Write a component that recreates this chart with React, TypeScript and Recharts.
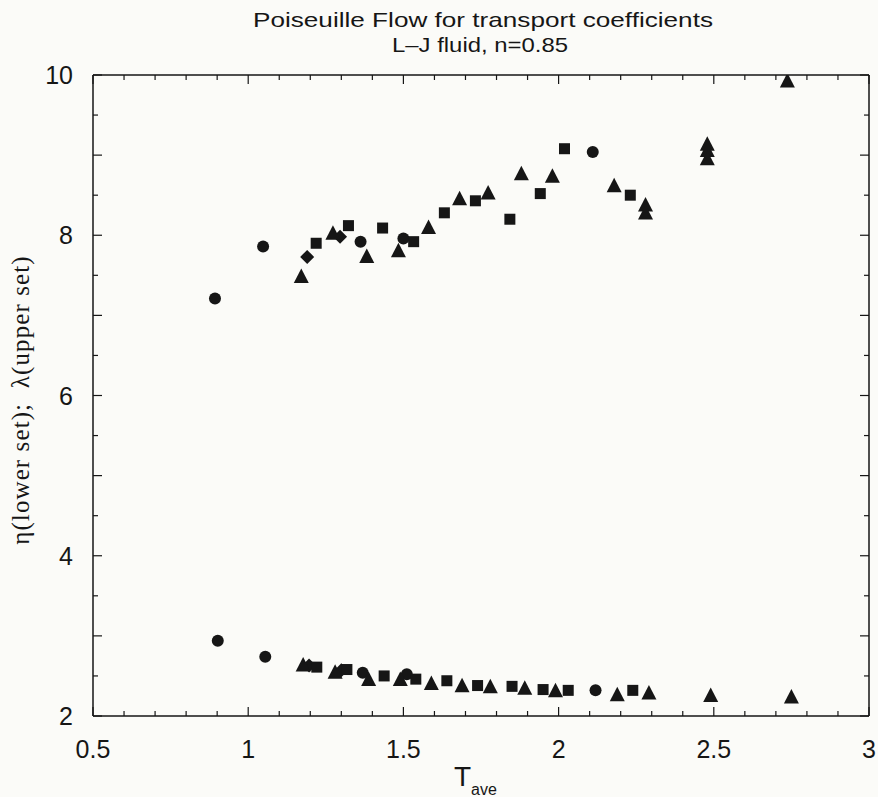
import {
  ScatterChart,
  Scatter,
  XAxis,
  YAxis,
  ReferenceLine,
  Label,
} from "recharts";

// [T_ave, value] pairs
const upperCircles = [
  [0.893, 7.21],
  [1.048, 7.86],
  [1.362, 7.92],
  [1.5, 7.96],
  [2.11, 9.04],
];
const upperDiamonds = [
  [1.19, 7.73],
  [1.296, 7.98],
];
const upperSquares = [
  [1.219, 7.9],
  [1.323, 8.12],
  [1.433, 8.09],
  [1.533, 7.92],
  [1.632, 8.28],
  [1.732, 8.43],
  [1.843, 8.2],
  [1.941, 8.52],
  [2.019, 9.08],
  [2.231, 8.5],
];
const upperTriangles = [
  [1.171, 7.48],
  [1.273, 8.02],
  [1.382, 7.73],
  [1.484, 7.8],
  [1.581, 8.09],
  [1.681, 8.45],
  [1.773, 8.52],
  [1.88, 8.76],
  [1.98, 8.73],
  [2.179, 8.61],
  [2.28, 8.37],
  [2.28, 8.27],
  [2.479, 9.13],
  [2.479, 9.05],
  [2.479, 8.95],
  [2.737, 9.92],
];

const lowerCircles = [
  [0.902, 2.94],
  [1.055, 2.74],
  [1.369, 2.54],
  [1.511, 2.52],
  [2.119, 2.32],
];
const lowerDiamonds = [
  [1.196, 2.63],
  [1.3, 2.57],
];
const lowerSquares = [
  [1.221, 2.61],
  [1.318, 2.58],
  [1.438, 2.5],
  [1.54, 2.46],
  [1.64, 2.44],
  [1.739, 2.38],
  [1.85, 2.37],
  [1.95, 2.33],
  [2.031, 2.32],
  [2.239, 2.32],
];
const lowerTriangles = [
  [1.177, 2.63],
  [1.28, 2.54],
  [1.388, 2.45],
  [1.49, 2.45],
  [1.59, 2.4],
  [1.689, 2.37],
  [1.78, 2.36],
  [1.891, 2.34],
  [1.99, 2.31],
  [2.189, 2.26],
  [2.291, 2.28],
  [2.49, 2.25],
  [2.75, 2.23],
];

const xTicks = [
  0.5, 0.6, 0.7, 0.8, 0.9, 1, 1.1, 1.2, 1.3, 1.4, 1.5, 1.6, 1.7, 1.8, 1.9, 2,
  2.1, 2.2, 2.3, 2.4, 2.5, 2.6, 2.7, 2.8, 2.9, 3,
];
const xMajor = [0.5, 1, 1.5, 2, 2.5, 3];
const xLabels = ["0.5", "1", "1.5", "2", "2.5", "3"];

const yTicks = [
  2, 2.5, 3, 3.5, 4, 4.5, 5, 5.5, 6, 6.5, 7, 7.5, 8, 8.5, 9, 9.5, 10,
];
const yMajor = [2, 4, 6, 8, 10];
const yLabels = ["2", "4", "6", "8", "10"];

const titleLines = ["Poiseuille Flow for transport coefficients", "L–J fluid, n=0.85"];

const INK = "#161616";
const BG = "#fbfbf8";
const W = 878;
const H = 797;
const TOP = 75;
const BOTTOM = 716;
const LEFT = 93;
const RIGHT = 869;
const SANS = "'Liberation Sans', Arial, sans-serif";

const toPoints = (arr: number[][]) => arr.map(([t, v]) => ({ t, v }));

const near = (a: number, b: number) => Math.abs(a - b) < 1e-6;

const XTick = (props: any) => {
  const { x, payload } = props;
  const v = payload.value;
  const idx = xMajor.findIndex((m) => near(m, v));
  const len = idx >= 0 ? 9 : 5;
  return (
    <g>
      <line x1={x} x2={x} y1={BOTTOM} y2={BOTTOM - len} stroke={INK} strokeWidth={1.2} />
      <line x1={x} x2={x} y1={TOP} y2={TOP + len} stroke={INK} strokeWidth={1.2} />
      {idx >= 0 && (
        <text x={x} y={BOTTOM + 42} textAnchor="middle" fontFamily={SANS} fontSize={25} fill={INK}>
          {xLabels[idx]}
        </text>
      )}
    </g>
  );
};

const YTick = (props: any) => {
  const { y, payload } = props;
  const v = payload.value;
  const idx = yMajor.findIndex((m) => near(m, v));
  const len = Number.isInteger(v) ? 9 : 5;
  return (
    <g>
      <line x1={LEFT} x2={LEFT + len} y1={y} y2={y} stroke={INK} strokeWidth={1.2} />
      <line x1={RIGHT} x2={RIGHT - len} y1={y} y2={y} stroke={INK} strokeWidth={1.2} />
      {idx >= 0 && (
        <text x={LEFT - 20} y={y + 9} textAnchor="end" fontFamily={SANS} fontSize={25} fill={INK}>
          {yLabels[idx]}
        </text>
      )}
    </g>
  );
};

const CircleDot = ({ cx, cy }: any) => <circle cx={cx} cy={cy} r={6} fill={INK} />;
const SquareDot = ({ cx, cy }: any) => (
  <rect x={cx - 5.5} y={cy - 5.5} width={11} height={11} fill={INK} />
);
const TriangleDot = ({ cx, cy }: any) => (
  <polygon
    points={`${cx},${cy - 8.5} ${cx - 7.5},${cy + 6} ${cx + 7.5},${cy + 6}`}
    fill={INK}
  />
);
const DiamondDot = ({ cx, cy }: any) => (
  <polygon
    points={`${cx},${cy - 7} ${cx + 7},${cy} ${cx},${cy + 7} ${cx - 7},${cy}`}
    fill={INK}
  />
);

const XTitle = () => (
  <text x={454} y={786} fontFamily={SANS} fill={INK}>
    <tspan fontSize={28}>T</tspan>
    <tspan fontSize={16} dy={9}>ave</tspan>
  </text>
);

const YTitle = () => (
  <text
    x={20}
    y={400}
    transform="rotate(-90 20 400)"
    textAnchor="middle"
    dominantBaseline="central"
    fontFamily="'Liberation Serif', 'Times New Roman', serif"
    fontSize={25}
    letterSpacing={1.1}
    fill={INK}
  >
    {"η(lower set);\u00A0\u00A0λ(upper set)"}
  </text>
);

const series = [
  { name: "upperCircles", data: upperCircles, shape: CircleDot },
  { name: "upperDiamonds", data: upperDiamonds, shape: DiamondDot },
  { name: "upperSquares", data: upperSquares, shape: SquareDot },
  { name: "upperTriangles", data: upperTriangles, shape: TriangleDot },
  { name: "lowerCircles", data: lowerCircles, shape: CircleDot },
  { name: "lowerDiamonds", data: lowerDiamonds, shape: DiamondDot },
  { name: "lowerSquares", data: lowerSquares, shape: SquareDot },
  { name: "lowerTriangles", data: lowerTriangles, shape: TriangleDot },
];

export default function App() {
  return (
    <div
      style={{
        position: "fixed",
        left: 0,
        top: 0,
        width: W,
        height: H,
        background: BG,
        overflow: "hidden",
      }}
    >
      <svg
        width={W}
        height={60}
        style={{ position: "absolute", left: 0, top: 0, pointerEvents: "none" }}
      >
        <text
          x={483}
          y={27}
          textAnchor="middle"
          fontFamily={SANS}
          fontSize={21}
          textLength={460}
          lengthAdjust="spacingAndGlyphs"
          fill={INK}
        >
          {titleLines[0]}
        </text>
        <text
          x={480}
          y={52}
          textAnchor="middle"
          fontFamily={SANS}
          fontSize={21}
          textLength={176}
          lengthAdjust="spacingAndGlyphs"
          fill={INK}
        >
          {titleLines[1]}
        </text>
      </svg>
      <ScatterChart
        width={W}
        height={H}
        margin={{ top: TOP, right: W - RIGHT, bottom: 31, left: LEFT - 60 }}
      >
        <XAxis
          type="number"
          dataKey="t"
          domain={[0.5, 3]}
          ticks={xTicks}
          interval={0}
          tick={<XTick />}
          tickLine={false}
          axisLine={{ stroke: INK, strokeWidth: 1.5 }}
          height={50}
          allowDataOverflow
        >
          <Label content={<XTitle />} />
        </XAxis>
        <YAxis
          type="number"
          dataKey="v"
          domain={[2, 10]}
          ticks={yTicks}
          interval={0}
          tick={<YTick />}
          tickLine={false}
          axisLine={{ stroke: INK, strokeWidth: 1.5 }}
          width={60}
          allowDataOverflow
        >
          <Label content={<YTitle />} />
        </YAxis>
        <ReferenceLine x={3} stroke={INK} strokeWidth={1.5} />
        <ReferenceLine y={10} stroke={INK} strokeWidth={1.5} />
        {series.map((s) => (
          <Scatter
            key={s.name}
            name={s.name}
            data={toPoints(s.data)}
            shape={s.shape}
            isAnimationActive={false}
          />
        ))}
      </ScatterChart>
    </div>
  );
}
